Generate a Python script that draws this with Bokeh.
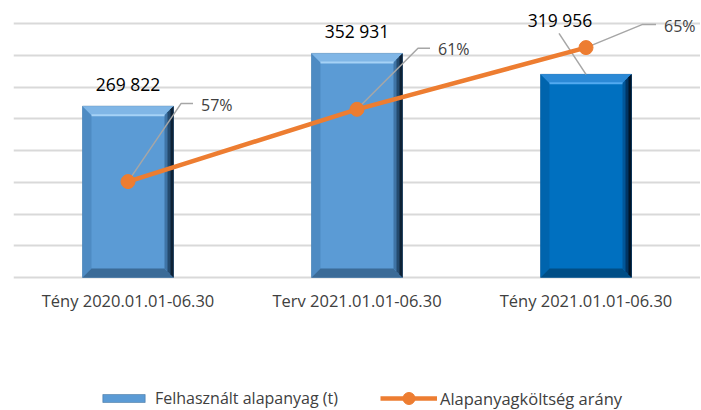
from bokeh.plotting import figure
from bokeh.models import ColumnDataSource, Range1d, FixedTicker, Grid, Legend, LegendItem
from bokeh.core.properties import value
from bokeh.embed import file_html
from bokeh.resources import INLINE

# ---------------- data ----------------
categories = ["Tény 2020.01.01-06.30", "Terv 2021.01.01-06.30", "Tény 2021.01.01-06.30"]
volumes = [269822, 352931, 319956]          # Felhasznált alapanyag (t)
ratios = [0.572, 0.613, 0.648]              # Alapanyagköltség arány
grid_ticks = [0, 50000, 100000, 150000, 200000, 250000, 300000, 350000, 400000]
series_names = ["Felhasznált alapanyag (t)", "Alapanyagköltség arány"]

volume_labels = [f"{v:,}".replace(",", " ") for v in volumes]
ratio_labels = [f"{round(r * 100)}%" for r in ratios]

# ---------------- layout / style ----------------
W, H = 700, 409
FL = 13                 # frame left
FW = W - FL             # frame width
BASE = 277              # pixel row of the value axis baseline
GRID_PX = 254           # pixels between 0 and the top gridline
y_per_px = grid_ticks[-1] / GRID_PX
y_lo = -(H - BASE) * y_per_px
y_hi = BASE * y_per_px
PCT_PX = 1763           # pixels per unit of ratio
pct_base = 0.5176       # ratio value at the baseline row
pct_lo = pct_base - (H - BASE) / PCT_PX
pct_hi = pct_base + BASE / PCT_PX

px_x = len(categories) / FW
px_y = y_per_px
px_p = 1 / PCT_PX

FONT_NAME = "Open Sans"
FONT = value(FONT_NAME)
xs = list(range(len(categories)))
bar_w = 91 * px_x

face = ["#5b9bd5", "#5b9bd5", "#0070c0"]
top_c = ["#80b6e6", "#80b6e6", "#2b89d6"]
hi_c = ["#a6d2f6", "#a6d2f6", "#52aaf0"]
left_c = ["#4e8bc3", "#4e8bc3", "#0064ad"]
bot_c = ["#3b6b97", "#3b6b97", "#004e86"]
right_c = [["#3f74a6", "#244a6e", "#0e2236"],
           ["#3f74a6", "#244a6e", "#0e2236"],
           ["#00579a", "#003564", "#001528"]]

p = figure(width=W, height=H, output_backend="svg", toolbar_location=None,
           x_range=Range1d(-0.5, len(categories) - 0.5), y_range=Range1d(y_lo, y_hi),
           x_axis_location=None, y_axis_location=None,
           min_border_left=FL, min_border_right=0, min_border_top=0, min_border_bottom=0)
p.extra_y_ranges = {"pct": Range1d(pct_lo, pct_hi)}
p.outline_line_color = None
p.background_fill_color = "white"
for g in list(p.grid):
    g.visible = False

grid = Grid(dimension=1, ticker=FixedTicker(ticks=grid_ticks),
            grid_line_color="#d9d9d9", grid_line_width=2)
p.add_layout(grid)

# ---------------- bars with bevel ----------------
bars = p.vbar(x=xs, top=volumes, bottom=0, width=bar_w, fill_color=face,
              line_color="#3b6b97", line_width=0.5)

b = 9
bx, by = b * px_x, b * px_y
tx, ty, tc = [], [], []
for i, (x, v) in enumerate(zip(xs, volumes)):
    L, R = x - bar_w / 2, x + bar_w / 2
    tx.append([L, L, L + bx, L + bx]); ty.append([0, v, v - by, by]); tc.append(left_c[i])
    tx.append([L, R, R - bx, L + bx]); ty.append([0, 0, by, by]); tc.append(bot_c[i])
    tx.append([L, R, R - bx, L + bx]); ty.append([v, v, v - by, v - by]); tc.append(top_c[i])
    for w, c in zip([9, 6, 3], right_c[i]):
        wx, wy = w * px_x, w * px_y
        tx.append([R, R, R - wx, R - wx]); ty.append([0, v, v - wy, wy]); tc.append(c)
p.patches(xs=tx, ys=ty, fill_color=tc, line_color=None)

hl_x0 = [x - bar_w / 2 + bx for x in xs]
hl_x1 = [x + bar_w / 2 - bx for x in xs]
hl_y = [v - by for v in volumes]
p.segment(x0=hl_x0, y0=hl_y, x1=hl_x1, y1=hl_y, line_color=hi_c, line_width=2)

# ---------------- category labels (x axis) ----------------
csrc = ColumnDataSource(dict(x=xs, y=[0] * len(xs), t=categories))
p.text(x="x", y="y", text="t", y_offset=23, source=csrc, text_align="center",
       text_baseline="middle", text_font=FONT, text_font_size="16.5px",
       text_color="#404040")

# ---------------- leader lines ----------------
leader_col = "#a6a6a6"
r_elbow = [(53, 78), (61, 61), (56, 23)]
r_end = [65, 73, 70]
lx, ly = [], []
for x, r, (ex, ey), en in zip(xs, ratios, r_elbow, r_end):
    lx.append([x, x + ex * px_x, x + en * px_x])
    ly.append([r, r + ey * px_p, r + ey * px_p])
p.multi_line(xs=lx, ys=ly, line_color=leader_col, line_width=1.5, y_range_name="pct")

v_lead = [None, None, (-27, 41)]
vx0, vy0, vx1, vy1 = [], [], [], []
for x, v, ld in zip(xs, volumes, v_lead):
    if ld is None:
        continue
    vx0.append(x); vy0.append(v)
    vx1.append(x + ld[0] * px_x); vy1.append(v + ld[1] * px_y)
p.segment(x0=vx0, y0=vy0, x1=vx1, y1=vy1, line_color=leader_col, line_width=1.5)

# ---------------- line ----------------
orange = "#ed7d31"
ln = p.line(xs, ratios, line_color=orange, line_width=4.5, y_range_name="pct")
mk = p.scatter(xs, ratios, size=14, fill_color=orange, line_color=orange, y_range_name="pct")

# ---------------- value labels ----------------
vsrc = ColumnDataSource(dict(x=xs, y=volumes, t=volume_labels,
                             dx=[0, 0, -26], dy=[-22, -22, -54]))
p.text(x="x", y="y", text="t", x_offset="dx", y_offset="dy", source=vsrc,
       text_align="center", text_baseline="middle", text_font=FONT,
       text_font_size="17.5px", text_color="#000000")

rsrc = ColumnDataSource(dict(x=xs, y=ratios, t=ratio_labels,
                             dx=[e + 8 for e in r_end],
                             dy=[-ey + 1 for (_, ey) in r_elbow]))
p.text(x="x", y="y", text="t", x_offset="dx", y_offset="dy", source=rsrc,
       text_align="left", text_baseline="middle", text_font=FONT,
       text_font_size="16px", text_color="#404040", y_range_name="pct")

# ---------------- legends ----------------
LEG_MID = H - 398       # legend centre, pixels above the bottom
common = dict(orientation="horizontal", padding=0, margin=0, border_line_color=None,
              background_fill_alpha=0, label_text_font=FONT_NAME,
              label_text_color="#404040")
legend1 = Legend(items=[LegendItem(label=series_names[0], renderers=[bars], index=0)],
                 location=(97 - FL, LEG_MID - 10.5), glyph_width=53, glyph_height=10,
                 label_height=10, label_standoff=5, label_text_font_size="16px", **common)
legend2 = Legend(items=[LegendItem(label=series_names[1], renderers=[ln, mk])],
                 location=(380 - FL, LEG_MID - 15), glyph_width=57, glyph_height=30,
                 label_height=30, label_standoff=3, label_text_font_size="16.5px", **common)
p.add_layout(legend1)
p.add_layout(legend2)

open("out.html", "w").write(file_html(p, INLINE))
